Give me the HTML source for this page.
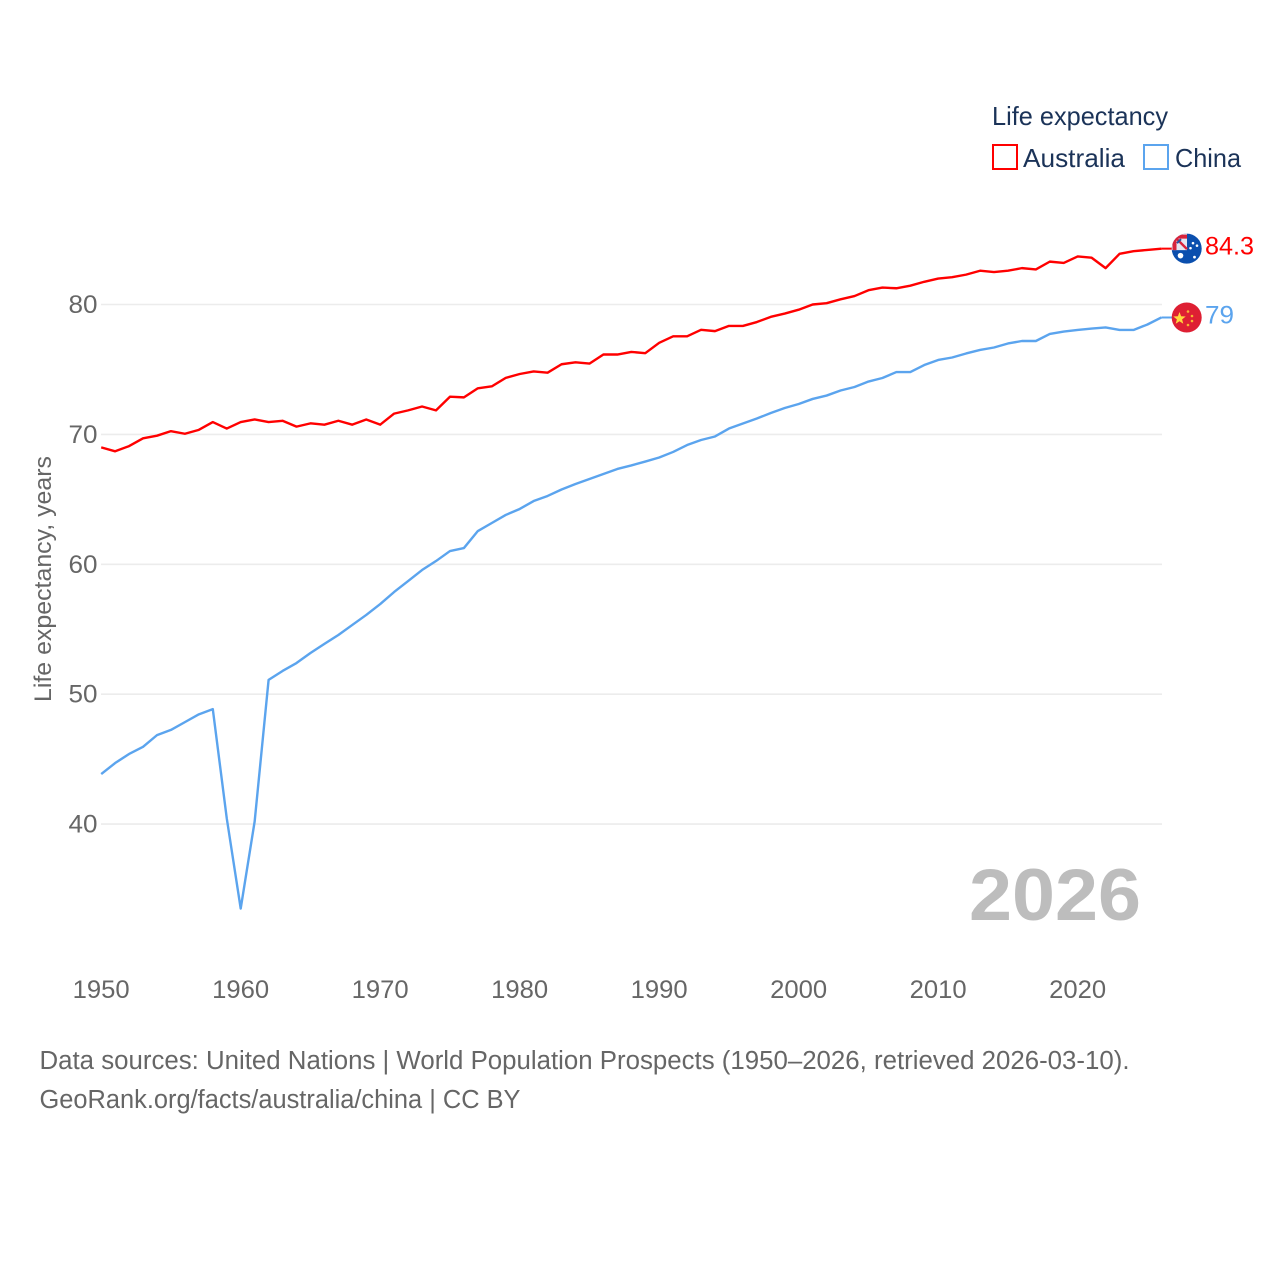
<!DOCTYPE html>
<html lang="en">
<head>
<meta charset="utf-8">
<title>Life expectancy: Australia and China</title>
<style>
html,body{margin:0;padding:0;background:#fff;width:1280px;height:1280px;overflow:hidden}
svg{display:block}
text{font-family:"Liberation Sans",sans-serif}
</style>
</head>
<body>
<svg id="chart" width="1280" height="1280" viewBox="0 0 1280 1280" xmlns="http://www.w3.org/2000/svg">
  <rect x="0" y="0" width="1280" height="1280" fill="#ffffff"/>
  <g id="grid"></g>
  <g id="yticks"></g>
  <g id="xticks"></g>
  <text transform="translate(51,702) rotate(-90)" font-size="24" fill="#666666" textLength="246" lengthAdjust="spacingAndGlyphs">Life expectancy, years</text>
  <text x="969" y="920" font-size="73" font-weight="700" fill="#bdbdbd" textLength="172" lengthAdjust="spacingAndGlyphs">2026</text>
  <g id="series"></g>

  <g id="flag-au">
    <clipPath id="au-clip"><circle cx="1186.7" cy="248.5" r="15"/></clipPath>
    <g clip-path="url(#au-clip)">
      <rect x="1171" y="233" width="31" height="32" fill="#0b4fae"/>
      <rect x="1171" y="233" width="16" height="17" fill="#e4e6f2"/>
      <path d="M1176 238L1187 249" stroke="#d8243c" stroke-width="2.4"/>
      <path d="M1177 243L1181 239" stroke="#2a4f9e" stroke-width="2"/>
      <path d="M1171 236.5H1187M1174.5 233V250" stroke="#d8243c" stroke-width="4"/>
      <circle cx="1180.5" cy="255.5" r="2.8" fill="#fff"/>
      <circle cx="1193" cy="243" r="1.3" fill="#fff"/>
      <circle cx="1197" cy="245.5" r="1.3" fill="#fff"/>
      <circle cx="1190.5" cy="248" r="1.3" fill="#fff"/>
      <circle cx="1194.5" cy="257" r="1.4" fill="#fff"/>
    </g>
  </g>
  <g id="flag-cn">
    <circle cx="1186.7" cy="317" r="15" fill="#de1f33"/>
    <path d="M1179.5 311.5l1.6 4.3 4.6.2-3.6 2.9 1.2 4.4-3.8-2.5-3.8 2.5 1.2-4.4-3.6-2.9 4.6-.2z" fill="#ffd83d"/>
    <circle cx="1188" cy="311" r="1.3" fill="#f9b233"/>
    <circle cx="1192" cy="315.5" r="1.3" fill="#f9b233"/>
    <circle cx="1192" cy="320.5" r="1.3" fill="#f9b233"/>
    <circle cx="1188" cy="324.5" r="1.3" fill="#f9b233"/>
  </g>
  <g id="endlabels"></g>

  <text x="992" y="125" font-size="26" fill="#1b3358" textLength="176" lengthAdjust="spacingAndGlyphs">Life expectancy</text>
  <g>
    <rect x="993" y="145" width="24" height="24" fill="#fff" stroke="#ff0000" stroke-width="2"/>
    <text x="1023" y="167" font-size="26" fill="#1b3358" textLength="102" lengthAdjust="spacingAndGlyphs">Australia</text>
  </g>
  <g>
    <rect x="1144" y="145" width="24" height="24" fill="#fff" stroke="#5ba4ee" stroke-width="2"/>
    <text x="1175" y="167" font-size="26" fill="#1b3358" textLength="66" lengthAdjust="spacingAndGlyphs">China</text>
  </g>

  <text x="39.5" y="1069" font-size="25.5" fill="#666666" textLength="1090" lengthAdjust="spacingAndGlyphs">Data sources: United Nations | World Population Prospects (1950–2026, retrieved 2026-03-10).</text>
  <text x="39.5" y="1108" font-size="25.5" fill="#666666" textLength="481" lengthAdjust="spacingAndGlyphs">GeoRank.org/facts/australia/china | CC BY</text>
</svg>
<script>
const startYear = 1950;
const xTickLabels = [1950, 1960, 1970, 1980, 1990, 2000, 2010, 2020];
const yTickLabels = [40, 50, 60, 70, 80];
const australiaValues = [
  69.0, 68.7, 69.1, 69.7, 69.9, 70.25, 70.05, 70.35, 70.95, 70.45,
  70.95, 71.15, 70.95, 71.05, 70.6, 70.85, 70.75, 71.05, 70.75, 71.15,
  70.75, 71.6, 71.85, 72.15, 71.85, 72.9, 72.85, 73.55, 73.7, 74.35,
  74.65, 74.85, 74.75, 75.4, 75.55, 75.45, 76.15, 76.15, 76.35, 76.25,
  77.05, 77.55, 77.55, 78.05, 77.95, 78.35, 78.35, 78.65, 79.05, 79.3,
  79.6, 80.0, 80.1, 80.4, 80.65, 81.1, 81.3, 81.25, 81.45, 81.75,
  82.0, 82.1, 82.3, 82.6, 82.5, 82.6, 82.8, 82.7, 83.3, 83.2,
  83.7, 83.6, 82.8, 83.9, 84.1, 84.2, 84.3
];
const chinaValues = [
  43.85, 44.7, 45.4, 45.95, 46.85, 47.25, 47.85, 48.45, 48.85, 40.45,
  33.5, 40.2, 51.1, 51.79, 52.4, 53.17, 53.87, 54.56, 55.33, 56.1,
  56.94, 57.87, 58.71, 59.56, 60.25, 61.02, 61.25, 62.56, 63.18, 63.8,
  64.26, 64.87, 65.26, 65.76, 66.18, 66.57, 66.95, 67.34, 67.61, 67.91,
  68.22, 68.65, 69.18, 69.57, 69.84, 70.45, 70.84, 71.22, 71.65, 72.03,
  72.34, 72.73, 72.99, 73.38, 73.65, 74.07, 74.34, 74.8, 74.8, 75.34,
  75.73, 75.92, 76.23, 76.5, 76.69, 77.0, 77.19, 77.19, 77.73, 77.92,
  78.04, 78.15, 78.23, 78.04, 78.04, 78.46, 79.0
];
const australiaEndLabel = "84.3";
const chinaEndLabel = "79";

const NS = "http://www.w3.org/2000/svg";
function xScale(year) { return 101.2 + (year - 1950) * 13.95; }
function yScale(value) { return 304.5 + (80 - value) * 12.99; }
function make(tag, parentId) {
  const el = document.createElementNS(NS, tag);
  document.getElementById(parentId).appendChild(el);
  return el;
}

yTickLabels.forEach(function (v) {
  const line = make("line", "grid");
  
  
  line.setAttribute("x1", 101);
  line.setAttribute("x2", 1162);
  line.setAttribute("y1", yScale(v));
  line.setAttribute("y2", yScale(v));
  line.setAttribute("stroke", "#ececec");
  line.setAttribute("stroke-width", 1.6);

  const t = make("text", "yticks");
  
  
  t.setAttribute("x", 97.5);
  t.setAttribute("y", yScale(v) + 8.5);
  t.setAttribute("text-anchor", "end");
  t.setAttribute("font-size", 25);
  t.setAttribute("fill", "#666666");
  t.setAttribute("textLength", 29);
  t.setAttribute("lengthAdjust", "spacingAndGlyphs");
  t.textContent = v;
});

xTickLabels.forEach(function (y) {
  const t = make("text", "xticks");
  
  
  t.setAttribute("x", xScale(y));
  t.setAttribute("y", 998);
  t.setAttribute("text-anchor", "middle");
  t.setAttribute("font-size", 25);
  t.setAttribute("fill", "#666666");
  t.setAttribute("textLength", 57);
  t.setAttribute("lengthAdjust", "spacingAndGlyphs");
  t.textContent = y;
});

function pathFor(values) {
  return values.map(function (v, i) {
    return (i ? "L" : "M") + xScale(startYear + i).toFixed(2) + " " + yScale(v).toFixed(2);
  }).join("");
}

const australiaLine = make("path", "series");


australiaLine.setAttribute("d", pathFor(australiaValues));
australiaLine.setAttribute("fill", "none");
australiaLine.setAttribute("stroke", "#ff0000");
australiaLine.setAttribute("stroke-width", 2.4);
australiaLine.setAttribute("stroke-linejoin", "round");

const chinaLine = make("path", "series");


chinaLine.setAttribute("d", pathFor(chinaValues));
chinaLine.setAttribute("fill", "none");
chinaLine.setAttribute("stroke", "#5ba4ee");
chinaLine.setAttribute("stroke-width", 2.4);
chinaLine.setAttribute("stroke-linejoin", "round");

const lastYear = startYear + australiaValues.length - 1;
const auEndY = yScale(australiaValues[australiaValues.length - 1]);
const cnEndY = yScale(chinaValues[chinaValues.length - 1]);

const auLeader = make("line", "series");


auLeader.setAttribute("x1", xScale(lastYear));
auLeader.setAttribute("x2", 1173);
auLeader.setAttribute("y1", auEndY);
auLeader.setAttribute("y2", auEndY);
auLeader.setAttribute("stroke", "#ff0000");
auLeader.setAttribute("stroke-width", 2);

const cnLeader = make("line", "series");


cnLeader.setAttribute("x1", xScale(lastYear));
cnLeader.setAttribute("x2", 1173);
cnLeader.setAttribute("y1", cnEndY);
cnLeader.setAttribute("y2", cnEndY);
cnLeader.setAttribute("stroke", "#5ba4ee");
cnLeader.setAttribute("stroke-width", 2);

document.getElementById("flag-au").setAttribute("transform", "translate(0," + (auEndY - 248.5).toFixed(2) + ")");
document.getElementById("flag-cn").setAttribute("transform", "translate(0," + (cnEndY - 317).toFixed(2) + ")");

const auLabel = make("text", "endlabels");


auLabel.setAttribute("x", 1205);
auLabel.setAttribute("y", auEndY + 6);
auLabel.setAttribute("font-size", 25);
auLabel.setAttribute("fill", "#ff0000");
auLabel.setAttribute("textLength", 49);
auLabel.setAttribute("lengthAdjust", "spacingAndGlyphs");
auLabel.textContent = australiaEndLabel;

const cnLabel = make("text", "endlabels");


cnLabel.setAttribute("x", 1205);
cnLabel.setAttribute("y", cnEndY + 6);
cnLabel.setAttribute("font-size", 25);
cnLabel.setAttribute("fill", "#5ba4ee");
cnLabel.setAttribute("textLength", 29);
cnLabel.setAttribute("lengthAdjust", "spacingAndGlyphs");
cnLabel.textContent = chinaEndLabel;
</script>
</body>
</html>
